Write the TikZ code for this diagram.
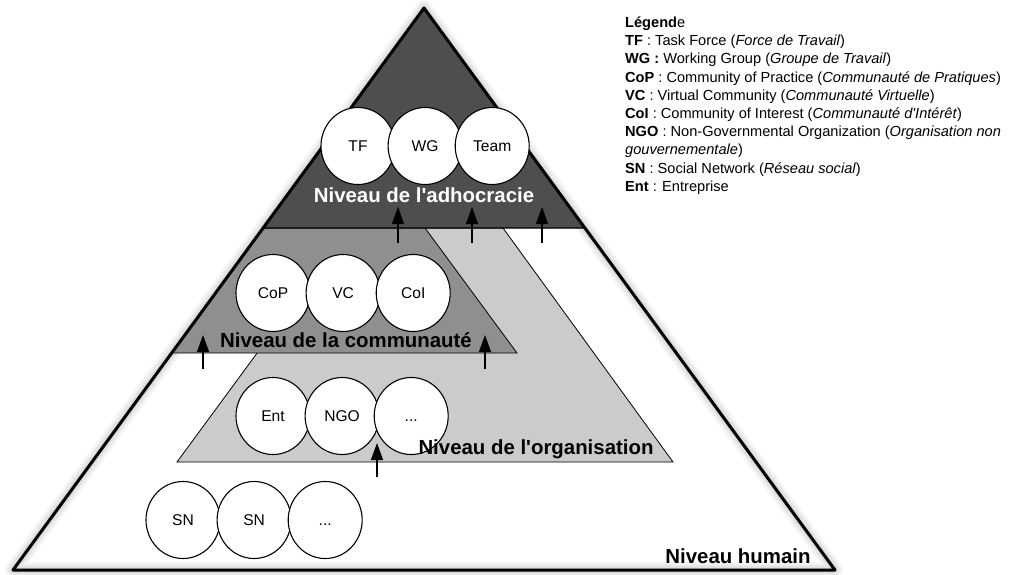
\documentclass[tikz,border=0pt]{standalone}
\usepackage{fontspec}
\setmainfont{Liberation Sans}
\usetikzlibrary{positioning,arrows.meta,shapes.geometric}
\definecolor{adhoc}{RGB}{78,78,78}
\definecolor{commu}{RGB}{143,143,143}
\definecolor{orga}{RGB}{203,203,203}

\begin{document}
\begin{tikzpicture}[x=1pt,y=-1pt,
  bubble/.style={ellipse,draw,fill=white,line width=1.1pt,minimum width=74pt,minimum height=77pt,inner sep=0pt,
    text height=11.2pt,text depth=0pt,font=\fontsize{15.6}{18}\selectfont},
  level/.style={font=\fontsize{20.4}{24}\selectfont\bfseries,anchor=base},
  up/.style={-{Triangle[length=17pt,width=12pt]},line width=1.4pt}]
  \useasboundingbox (0,0) rectangle (1015,574);
  %pyramid corners
  \coordinate (apex) at (424,8);
  \coordinate (bl) at (13,570);
  \coordinate (br) at (835,570);
  \fill[white] (apex)--(bl)--(br)--cycle;
  %soft shadow
  \foreach \w in {16,11,7,4}
    \draw[black,opacity=0.045,line width=\w pt,line join=round] (apex)--(bl)--(br)--cycle;
  %organisation level
  \draw[fill=orga,line width=0.8pt] (349,228)--(503,228)--(673,462)--(177,462)--cycle;
  %community level
  \draw[fill=commu,line width=0.8pt] (263,228)--(425,228)--(517,353)--(172,353)--cycle;
  %adhocracy level
  \draw[fill=adhoc,line width=1.2pt] (apex)--(263,228)--(585,228)--cycle;
  \draw[line width=3pt,line join=round] (apex)--(bl)--(br)--cycle;

  %bubbles
  \node[bubble] (tf) at (358,146) {TF};
  \node[bubble,right=-8pt of tf] (wg) {WG};
  \node[bubble,right=-8pt of wg] (team) {Team};
  \node[bubble] (cop) at (273,293) {CoP};
  \node[bubble,right=-5pt of cop] (vc) {VC};
  \node[bubble,right=-5pt of vc] (coi) {CoI};
  \node[bubble] (ent) at (273,416) {Ent};
  \node[bubble,right=-6pt of ent] (ngo) {NGO};
  \node[bubble,right=-6pt of ngo] (orgdots) {...};
  \node[bubble] (sna) at (183,520) {SN};
  \node[bubble,right=-4pt of sna] (snb) {SN};
  \node[bubble,right=-4pt of snb] (sndots) {...};

  %level names
  \node[level,white] (nadhoc) at (424,202) {Niveau de l\textquotesingle adhocracie};
  \node[level] (ncommu) at (346,347) {Niveau de la communauté};
  \node[level] (norga) at (536,454) {Niveau de l\textquotesingle organisation};
  \node[level] (nhum) at (738,563) {Niveau humain};

  %arrows between levels
  \foreach \x/\n in {398/a,472/b,542/c}{
    \coordinate (t\n) at (\x,207);
    \coordinate (s\n) at (\x,243);
    \draw[up] (s\n)--(t\n);
  }
  \foreach \x/\n in {203/d,485/e}{
    \coordinate (t\n) at (\x,335);
    \coordinate (s\n) at (\x,369);
    \draw[up] (s\n)--(t\n);
  }
  \coordinate (tf2) at (377,443);
  \coordinate (sf2) at (377,477);
  \draw[up] (sf2)--(tf2);

  %legend
  \node[anchor=north west,align=left,inner sep=0pt,font=\fontsize{14.6}{18.2}\selectfont] (legend) at (625,16.5) {%
    \textbf{Légend}e\\
    \textbf{TF} : Task Force (\textit{Force de Travail})\\
    \textbf{WG :} Working Group (\textit{Groupe de Travail})\\
    \textbf{CoP} : Community of Practice (\textit{Communauté de Pratiques})\\
    \textbf{VC} : Virtual Community (\textit{Communauté Virtuelle})\\
    \textbf{CoI} : Community of Interest (\textit{Communauté d\textquotesingle Intérêt})\\
    \textbf{NGO} : Non-Governmental Organization (\textit{Organisation non}\\
    \textit{gouvernementale})\\
    \textbf{SN} : Social Network (\textit{Réseau social})\\
    \textbf{Ent} : Entreprise};
\end{tikzpicture}
\end{document}
